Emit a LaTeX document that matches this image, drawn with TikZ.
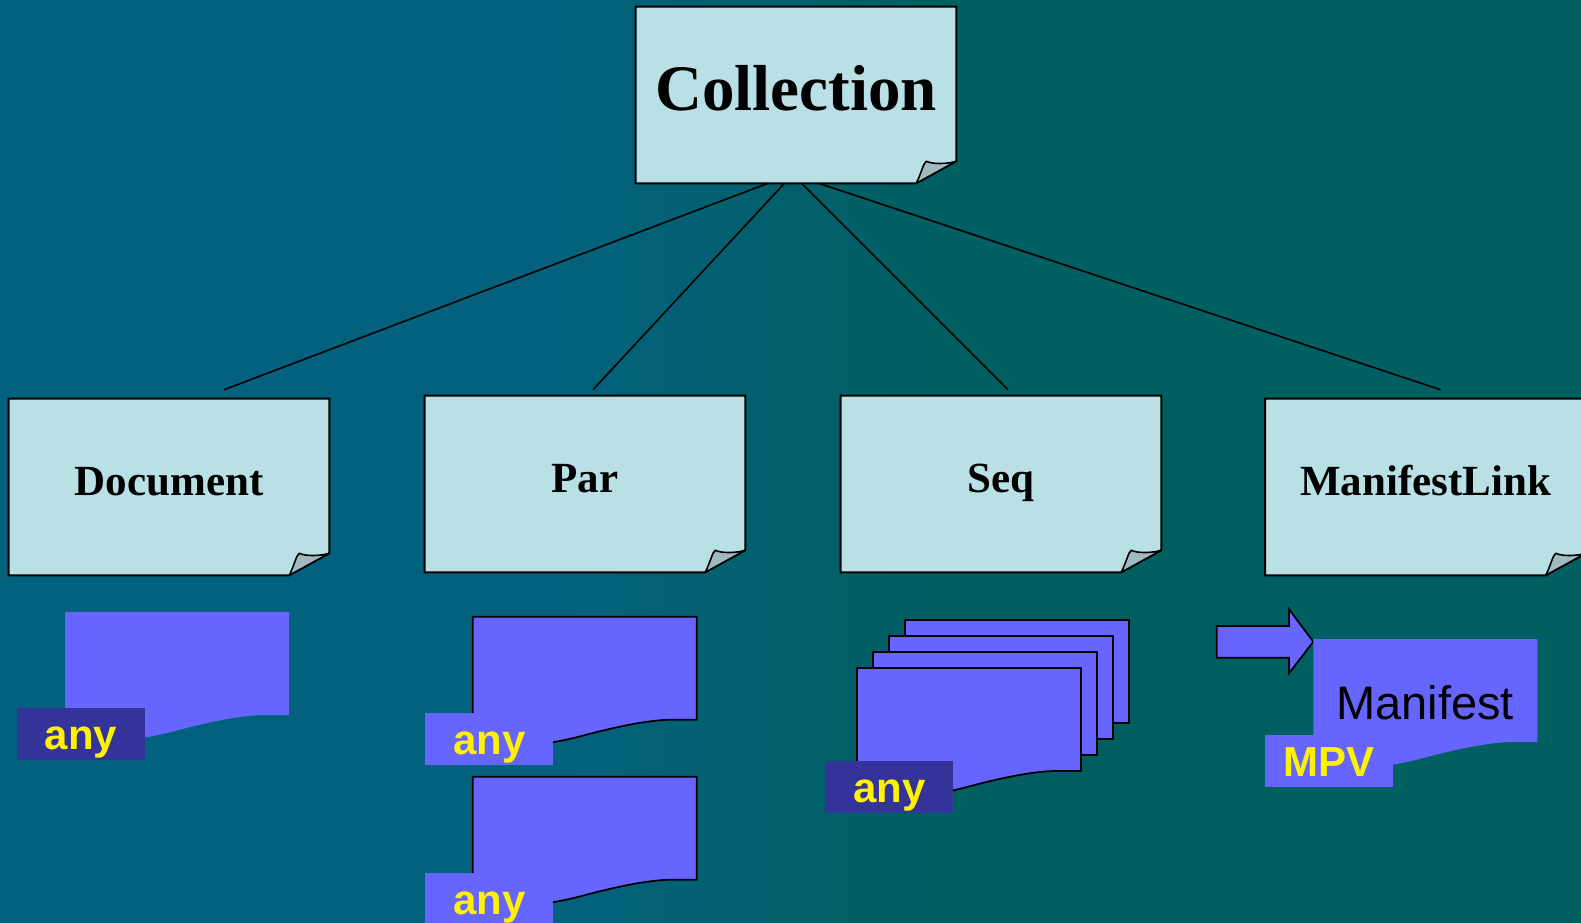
\documentclass[tikz,border=0pt]{standalone}
\usepackage{fontspec}
\setmainfont{Liberation Serif}
\setsansfont{Liberation Sans}
\usetikzlibrary{calc}

\definecolor{bgblue}{RGB}{4,97,126}
\definecolor{bgteal}{RGB}{0,95,96}
\definecolor{notefill}{RGB}{185,224,228}
\definecolor{foldfill}{RGB}{160,186,192}
\definecolor{docfill}{RGB}{102,102,255}
\definecolor{tagdark}{RGB}{51,51,153}

\pgfdeclarehorizontalshading{bgshade}{100bp}{color(0bp)=(bgblue); color(42bp)=(bgblue); color(55bp)=(bgteal); color(100bp)=(bgteal)}

\tikzset{
  notebox/.style={minimum width=240pt, minimum height=132pt, inner sep=0pt},
  noteline/.style={fill=notefill, draw=black, line width=1.5pt},
  foldline/.style={fill=foldfill, draw=black, line width=1.2pt, line join=round},
  link/.style={draw=black, line width=1.2pt},
  boxtext/.style={anchor=base, inner sep=0pt, font=\bfseries\fontsize{32.25}{36}\selectfont},
  colltext/.style={anchor=base, inner sep=0pt, font=\bfseries\fontsize{48.75}{52}\selectfont},
  docplain/.style={fill=docfill},
  docline/.style={fill=docfill, draw=black, line width=1.3pt},
  anytag/.style={minimum width=96pt, minimum height=39pt, inner sep=0pt, text height=25pt, text depth=2pt, text=yellow, font=\sffamily\bfseries\fontsize{31.5}{34}\selectfont},
}

% note with turned-down corner round an empty node
\newcommand{\foldnote}[1]{%
  \draw[noteline] (#1.north west) -- (#1.north east) -- ($(#1.south east)+(0,-22)$) -- ($(#1.south east)+(-40,0)$) -- (#1.south west) -- cycle;
  \draw[foldline] ($(#1.south east)+(-40,0)$) .. controls ($(#1.south east)+(-35,-10)$) and ($(#1.south east)+(-33,-20)$) .. ($(#1.south east)+(-30,-22)$) .. controls ($(#1.south east)+(-24,-19)$) and ($(#1.south east)+(-10,-19)$) .. ($(#1.south east)+(0,-22)$) -- cycle;
}

% sheet with wavy bottom, top left corner at (#1,#2)
\newcommand{\wavedoc}[3]{%
  \begin{scope}[shift={(#1,#2)}]
    \path[#3] (0,0) -- (224,0) -- (224,103) -- (200,103) .. controls (175,103) and (140,111) .. (110,119) .. controls (80,127) and (50,131) .. (0,131) -- cycle;
  \end{scope}
}

\begin{document}
\begin{tikzpicture}[x=0.75pt,y=0.75pt,yscale=-1,xscale=1]
%Background
\clip (0,0) rectangle (1581,923);
\shade[shading=bgshade] (0,0) rectangle (1581,923);

%Notes
\node[notebox] (coll) at (796,95) {};
\foldnote{coll}
\node[colltext] (coll-t) at ($(coll)+(0,16)$) {Collection};

\node[notebox] (doc) at (169,487) {};
\foldnote{doc}
\node[boxtext] (doc-t) at ($(doc)+(0,8)$) {Document};

\node[notebox] (par) at (585,484) {};
\foldnote{par}
\node[boxtext] (par-t) at ($(par)+(0,8)$) {Par};

\node[notebox] (seq) at (1001,484) {};
\foldnote{seq}
\node[boxtext] (seq-t) at ($(seq)+(0,8)$) {Seq};

\node[notebox] (mlink) at (1425.5,487) {};
\foldnote{mlink}
\node[boxtext] (mlink-t) at ($(mlink)+(0,8)$) {ManifestLink};

%Links
\draw[link] ($(coll.south)+(-28,0)$) -- ($(doc.north)+(55,-9)$);
\draw[link] ($(coll.south)+(-11.5,0)$) -- ($(par.north)+(8,-6)$);
\draw[link] ($(coll.south)+(5.6,0)$) -- ($(seq.north)+(7,-6)$);
\draw[link] ($(coll.south)+(22.7,0)$) -- ($(mlink.north)+(15,-9)$);

%Document content
\wavedoc{65}{612}{docplain}
\node[anytag, fill=tagdark] (doc-any) at (81,734) {any};

%Par content
\wavedoc{472.7}{616.7}{docline}
\node[anytag, fill=docfill] (par-any1) at (489.2,738.8) {any};
\wavedoc{472.7}{776.7}{docline}
\node[anytag, fill=docfill] (par-any2) at (489.2,898.8) {any};

%Seq content
\foreach \k in {0,1,2}
  \draw[docline] ({905-16*\k},{620+16*\k}) rectangle ++(224,103);
\wavedoc{857}{668}{docline}
\node[anytag, fill=tagdark] (seq-any) at (889.2,786.9) {any};

%ManifestLink content
\draw[docline] (1216.7,626) -- (1289,626) -- (1289,609.3) -- (1313.3,641.7) -- (1289,673.3) -- (1289,657.7) -- (1216.7,657.7) -- cycle;
\wavedoc{1313.3}{639}{docplain}
\node[anchor=base, inner sep=0pt, font=\sffamily\fontsize{35.25}{38}\selectfont] (mani) at (1425,719) {Manifest};
\node[anytag, fill=docfill] (mpv) at (1328.9,760.8) {MPV};
\end{tikzpicture}
\end{document}
